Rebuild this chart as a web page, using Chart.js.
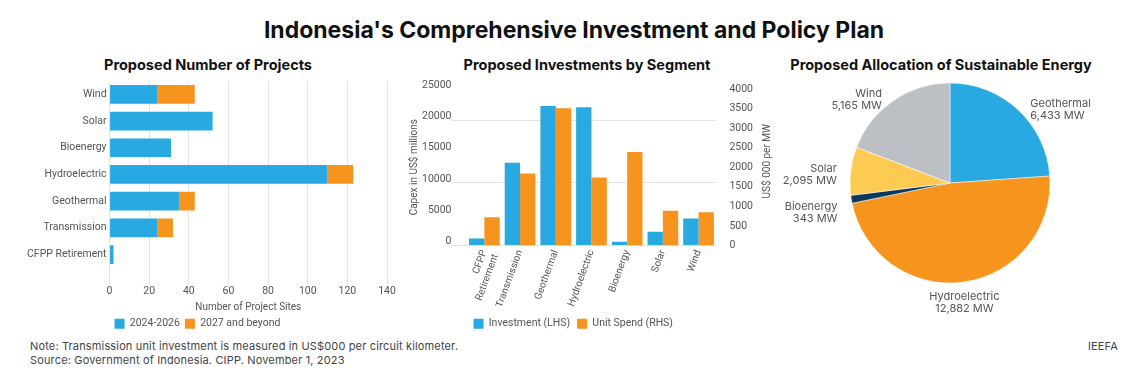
<!DOCTYPE html>
<html>
<head>
<meta charset="utf-8">
<script src="https://cdn.jsdelivr.net/npm/chart.js@4.4.0/dist/chart.umd.min.js"></script>
<style>
  body { margin: 0; width: 1148px; height: 385px; background: #fff; position: relative; overflow: hidden; font-family: Inter, sans-serif; }
  #title { position: absolute; top: 16px; left: 0; width: 1148px; text-align: center; font: bold 23px/28px Inter, sans-serif; color: #111; }
  .sub { position: absolute; top: 56px; width: 400px; margin-left: -200px; text-align: center; font: bold 14.5px/18px Inter, sans-serif; color: #111; }
  canvas { position: absolute; }
  .foot { position: absolute; font: 11px/14px Inter, sans-serif; color: #444; letter-spacing: 0.15px; }
</style>
</head>
<body>
<div id="title">Indonesia's Comprehensive Investment and Policy Plan</div>
<div class="sub" style="left:208px">Proposed Number of Projects</div>
<div class="sub" style="left:587px">Proposed Investments by Segment</div>
<div class="sub" style="left:941px">Proposed Allocation of Sustainable Energy</div>
<canvas id="projects" width="393" height="269" style="left:7px;top:70px"></canvas>
<canvas id="segments" width="374" height="269" style="left:400px;top:70px"></canvas>
<canvas id="allocation" width="340" height="268" style="left:776px;top:70px"></canvas>
<div class="foot" style="left:30px;top:339px">Note: Transmission unit investment is measured in US$000 per circuit kilometer.</div>
<div class="foot" style="left:30px;top:353px">Source: Government of Indonesia. CIPP. November 1, 2023</div>
<div class="foot" style="right:30px;top:339px">IEEFA</div>
<script>
// left panel: number of projects
const projectCategories = ["Wind", "Solar", "Bioenergy", "Hydroelectric", "Geothermal", "Transmission", "CFPP Retirement"];
const projectsNear = [24, 52, 31, 110, 35, 24, 2];
const projectsLater = [19, 0, 0, 13, 8, 8, 0];

// middle panel: investments by segment
const segmentLabels = [["CFPP", "Retirement"], "Transmission", "Geothermal", "Hydroelectric", "Bioenergy", "Solar", "Wind"];
const investment = [1100, 13200, 22300, 22100, 600, 2200, 4300];
const unitSpend = [720, 1840, 3510, 1735, 2390, 890, 850];

// right panel: sustainable energy allocation
const energyLabels = ["Geothermal", "Hydroelectric", "Bioenergy", "Solar", "Wind"];
const energyMW = [6433, 12882, 343, 2095, 5165];

const blue = "#29a9e1";
const orange = "#f7941e";
const grey = "#555";
const gridGrey = "#e4e4e4";
const tickFont = { family: "Roboto, sans-serif", size: 10.5 };

Chart.defaults.font.family = "Roboto, sans-serif";
Chart.defaults.animation = false;

const plainNumber = (v) => String(v);

new Chart(document.getElementById("projects"), {
  type: "bar",
  data: {
    labels: projectCategories,
    datasets: [
      { label: "2024-2026", data: projectsNear, backgroundColor: blue },
      { label: "2027 and beyond", data: projectsLater, backgroundColor: orange }
    ]
  },
  options: {
    responsive: false,
    indexAxis: "y",
    layout: { padding: { left: 17, right: 13, top: 11, bottom: 0 } },
    datasets: { bar: { barPercentage: 0.7, categoryPercentage: 1 } },
    scales: {
      x: {
        stacked: true, min: 0, max: 140,
        ticks: { stepSize: 20, color: grey, font: tickFont, padding: 0 },
        grid: { color: gridGrey, tickLength: 17 },
        border: { display: false },
        title: { display: true, text: "Number of Project Sites", color: grey, font: { size: 10 }, padding: { top: 4, bottom: 0 } }
      },
      y: {
        stacked: true,
        grid: { display: false, drawTicks: false },
        border: { display: false },
        ticks: { color: grey, font: tickFont, padding: 3 }
      }
    },
    plugins: {
      title: { display: false },
      legend: {
        position: "bottom", align: "start", fullSize: false,
        labels: { boxWidth: 10, boxHeight: 10, color: grey, font: tickFont, padding: 5 }
      },
      tooltip: { enabled: false }
    }
  }
});

// right-hand axis title reads bottom to top in the original
const rightTitle = {
  id: "rightTitle",
  afterDraw(chart, args, opts) {
    const s = chart.scales.y1;
    const ctx = chart.ctx;
    ctx.save();
    ctx.translate(s.right + opts.offset, (s.top + s.bottom) / 2 - 6);
    ctx.rotate(-Math.PI / 2);
    ctx.font = "10px Roboto, sans-serif";
    ctx.fillStyle = grey;
    ctx.textAlign = "center";
    ctx.textBaseline = "middle";
    ctx.fillText(opts.text, 0, 0);
    ctx.restore();
  }
};

new Chart(document.getElementById("segments"), {
  type: "bar",
  data: {
    labels: segmentLabels,
    datasets: [
      { label: "Investment (LHS)", data: investment, backgroundColor: blue, yAxisID: "y" },
      { label: "Unit Spend (RHS)", data: unitSpend, backgroundColor: orange, yAxisID: "y1" }
    ]
  },
  options: {
    responsive: false,
    layout: { padding: { left: 5, right: 16, top: 19, bottom: 0 } },
    datasets: { bar: { barPercentage: 1, categoryPercentage: 0.86 } },
    scales: {
      x: {
        grid: { display: false, drawTicks: false },
        border: { display: false },
        ticks: { minRotation: 70, maxRotation: 70, autoSkip: false, color: grey, font: { size: 10 }, padding: 3 },
        afterFit: (scale) => { scale.height = 66; }
      },
      y: {
        position: "left", min: 0, max: 25000,
        ticks: { stepSize: 5000, color: grey, font: tickFont, padding: 0, labelOffset: -4, callback: plainNumber },
        grid: {
          tickLength: 15,
          color: (c) => (c.tick && c.tick.value % 10000 === 0 ? gridGrey : "rgba(0,0,0,0)")
        },
        border: { display: false },
        title: { display: true, text: "Capex in US$ millions", color: grey, font: { size: 10 }, padding: { top: 3, bottom: 2 } }
      },
      y1: {
        position: "right", min: 0, max: 4000,
        ticks: { stepSize: 500, color: grey, font: tickFont, padding: 5, callback: plainNumber },
        grid: { display: false },
        border: { display: false }
      }
    },
    plugins: {
      title: { display: false },
      legend: {
        position: "bottom", align: "start", fullSize: false,
        labels: { boxWidth: 10, boxHeight: 10, color: grey, font: tickFont, padding: 7 }
      },
      tooltip: { enabled: false },
      rightTitle: { text: "US$ 000 per MW", offset: 9 }
    }
  },
  plugins: [rightTitle]
});

// labels outside the pie, next to each slice
const pieLabels = {
  id: "pieLabels",
  afterDatasetsDraw(chart) {
    const ctx = chart.ctx;
    const arcs = chart.getDatasetMeta(0).data;
    const values = chart.data.datasets[0].data;
    const items = arcs.map((arc, i) => {
      const mid = (arc.startAngle + arc.endAngle) / 2;
      const cos = Math.cos(mid), sin = Math.sin(mid);
      const r = arc.outerRadius + 6;
      let x = arc.x + cos * r, y = arc.y + sin * r;
      let align = "center";
      if (Math.abs(cos) > 0.3) {
        align = cos > 0 ? "left" : "right";
        x += cos > 0 ? 8 : -8;
      }
      return { text: chart.data.labels[i], value: values[i], x, y, align, sin, side: Math.abs(cos) > 0.3 ? Math.sign(cos) : 0 };
    });
    // push apart labels on the same side that would overlap
    [-1, 1].forEach((side) => {
      const group = items.filter((it) => it.side === side).sort((a, b) => a.y - b.y);
      for (let k = 1; k < group.length; k++) {
        if (group[k].y - group[k - 1].y < 38) group[k].y = group[k - 1].y + 38;
      }
    });
    ctx.save();
    ctx.font = "11px Inter, sans-serif";
    ctx.fillStyle = grey;
    ctx.textBaseline = "middle";
    items.forEach((it) => {
      ctx.textAlign = it.align;
      const lines = [it.text, it.value.toLocaleString("en-US") + " MW"];
      let top;
      if (it.side === 0) top = it.sin > 0 ? it.y + 3 : it.y - 30;
      else top = it.y - 8;
      lines.forEach((ln, j) => ctx.fillText(ln, it.x, top + 6 + j * 12));
    });
    ctx.restore();
  }
};

new Chart(document.getElementById("allocation"), {
  type: "pie",
  data: {
    labels: energyLabels,
    datasets: [{
      data: energyMW,
      radius: 100,
      backgroundColor: [blue, orange, "#0d3a5c", "#fecb52", "#bcc0c5"],
      borderColor: "#ffffff",
      borderWidth: 0.5
    }]
  },
  options: {
    responsive: false,
    layout: { padding: { left: 8, right: 0, top: 0, bottom: 42 } },
    plugins: {
      title: { display: false },
      legend: { display: false },
      tooltip: { enabled: false }
    }
  },
  plugins: [pieLabels]
});
</script>
</body>
</html>
